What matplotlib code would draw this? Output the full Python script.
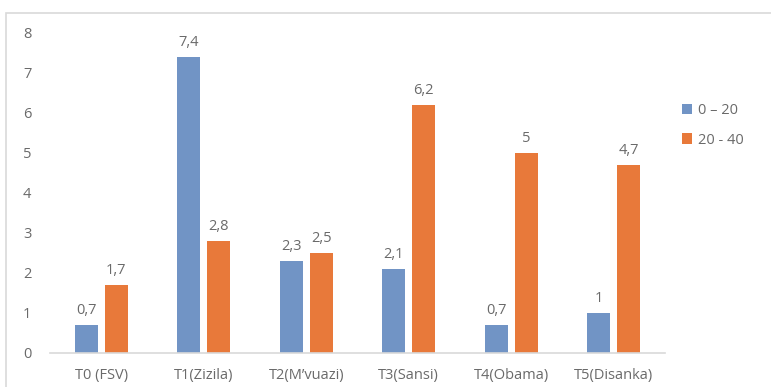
import matplotlib
matplotlib.use("Agg")
import matplotlib.pyplot as plt
from matplotlib.patches import Rectangle
import numpy as np

categories = ["T0 (FSV)", "T1(Zizila)", "T2(M\u2019vuazi)", "T3(Sansi)", "T4(Obama)", "T5(Disanka)"]
series_names = ["0 \u2013 20", "20 - 40"]
vals_0_20 = [0.7, 7.4, 2.3, 2.1, 0.7, 1.0]
vals_20_40 = [1.7, 2.8, 2.5, 6.2, 5.0, 4.7]
yticks = [0, 1, 2, 3, 4, 5, 6, 7, 8]

def fmt(v):
    s = ("%g" % v).replace(".", ",")
    return s

plt.rcParams['font.family'] = ['Open Sans', 'DejaVu Sans']
txt = "#6a6a6a"
blue = "#7194C5"
orange = "#E8793A"

fig = plt.figure(figsize=(7.71, 3.87), dpi=100)
fig.patch.set_facecolor("white")
# outer frame
fig.add_artist(Rectangle((6/771, -0.1), 1.2, 1 - 13/387 + 0.1, transform=fig.transFigure,
                         fill=False, edgecolor="#d9d9d9", linewidth=1.2))

ax = fig.add_axes([50/771, 34/387, 615/771, 320/387])
x = np.arange(len(categories))
w = 0.225
off = 0.147
b1 = ax.bar(x - off, vals_0_20, w, color=blue, label=series_names[0])
b2 = ax.bar(x + off, vals_20_40, w, color=orange, label=series_names[1])
for bars, vals in ((b1, vals_0_20), (b2, vals_20_40)):
    for r, v in zip(bars, vals):
        ax.annotate(fmt(v), (r.get_x() + r.get_width() / 2, v), xytext=(0, 5),
                    textcoords="offset points", ha="center", va="bottom",
                    fontsize=10.5, color=txt)

ax.set_xlim(-0.5, len(categories) - 0.5)
ax.set_ylim(0, 8)
ax.set_yticks(yticks)
ax.set_yticklabels([str(t) for t in yticks])
ax.set_xticks(x)
ax.set_xticklabels(categories)
for s in ["top", "right", "left"]:
    ax.spines[s].set_visible(False)
ax.spines["bottom"].set_color("#d9d9d9")
ax.spines["bottom"].set_linewidth(1.2)
ax.tick_params(axis="both", length=0, colors=txt, labelsize=10.5)
ax.tick_params(axis="x", pad=11)
for lab in ax.get_yticklabels():
    lab.set_horizontalalignment("center")
ax.yaxis.set_tick_params(pad=16.5)

leg = ax.legend(loc="upper left", bbox_to_anchor=(669/771, 1 - 90/387), bbox_transform=fig.transFigure,
                frameon=False, fontsize=10.5, handlelength=0.7, handleheight=0.7,
                handletextpad=0.4, labelspacing=1.0, labelcolor=txt)

fig.savefig("out.png", dpi=100, facecolor="white")
